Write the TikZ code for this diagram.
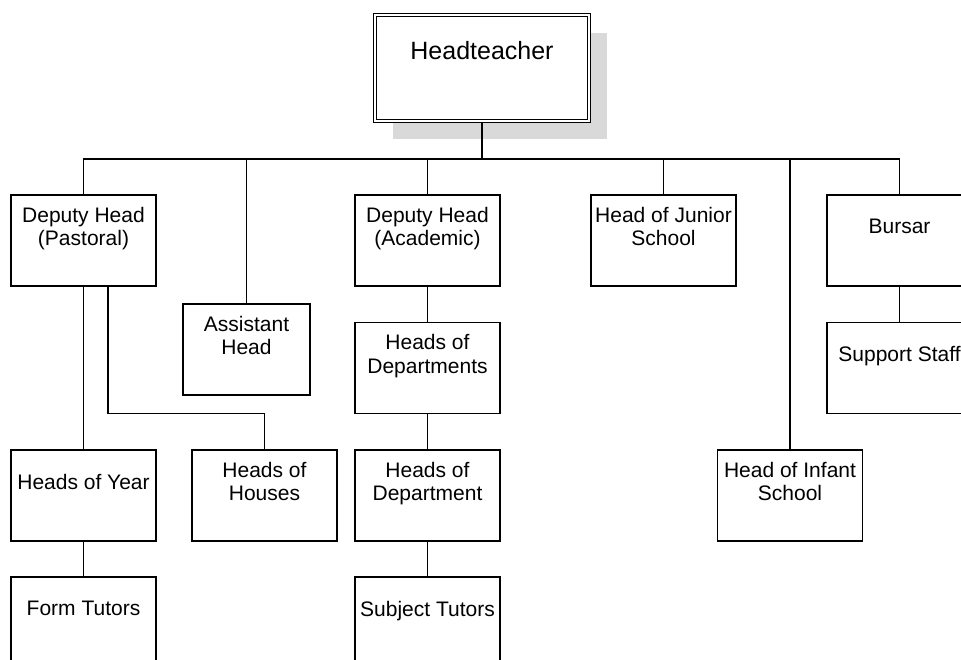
\documentclass[tikz,border=0pt]{standalone}
\usepackage{fontspec}
\setmainfont{Liberation Sans}
\usetikzlibrary{positioning,shadows}

\begin{document}
\begin{tikzpicture}
    [
    x=1pt, y=-1pt,
    box/.style={rectangle,draw,line width=1.2pt,minimum width=145pt,minimum height=91pt,inner sep=0pt},
    head/.style={rectangle,draw,fill=white,line width=1.2pt,double,double distance=2.5pt,
      minimum width=214pt,minimum height=106pt,inner sep=0pt,
      drop shadow={shadow xshift=18pt,shadow yshift=-18pt,fill=black!15,opacity=1}},
    txt/.style={align=center,inner sep=0pt,text depth=0pt,font=\fontsize{21}{23.5}\selectfont},
    edge/.style={line width=1.2pt}
    ]
\useasboundingbox (0,0) rectangle (961,660);
% top of the chart
\node[head] (ht) at (482,68) {};
\node[txt,font=\fontsize{25}{28}\selectfont] (ht-t) at ([yshift=-36.5pt]ht.north) {Headteacher};
\coordinate (bus) at (482,159);
% first row
\node[box] (dhp) at (83.5,240.5) {};
\node[box,minimum width=127pt] (ah) at (246.5,349.5) {};
\node[box] (dha) at (427.5,240.5) {};
\node[box] (hj) at (663.5,240.5) {};
\node[box] (bur) at (899.5,240.5) {};
\node[box] (hi) at (790,495.5) {};
% lower rows
\node[box] (hy) at (83.5,495.5) {};
\node[box] (ft) at (83.5,622.5) {};
\node[box] (hh) at (264.5,495.5) {};
\node[box] (hds) at (427.5,368) {};
\node[box] (hd) at (427.5,495.5) {};
\node[box] (st) at (427.5,622.5) {};
\node[box] (ss) at (899.5,368) {};
% texts
\node[txt] (dhp-t) at ([yshift=-32pt]dhp.north) {Deputy Head\\(Pastoral)};
\node[txt] (ah-t) at ([yshift=-32pt]ah.north) {Assistant\\Head};
\node[txt] (dha-t) at ([yshift=-32pt]dha.north) {Deputy Head\\(Academic)};
\node[txt] (hj-t) at ([yshift=-32pt]hj.north) {Head of Junior\\School};
\node[txt] (bur-t) at ([yshift=-32pt]bur.north) {Bursar};
\node[txt] (hi-t) at ([yshift=-32pt]hi.north) {Head of Infant\\School};
\node[txt] (hy-t) at ([yshift=-32pt]hy.north) {Heads of Year};
\node[txt] (ft-t) at ([yshift=-32pt]ft.north) {Form Tutors};
\node[txt] (hh-t) at ([yshift=-32pt]hh.north) {Heads of\\Houses};
\node[txt] (hds-t) at ([yshift=-32pt]hds.north) {Heads of\\Departments};
\node[txt] (hd-t) at ([yshift=-32pt]hd.north) {Heads of\\Department};
\node[txt] (st-t) at ([yshift=-32pt]st.north) {Subject Tutors};
\node[txt] (ss-t) at ([yshift=-32pt]ss.north) {Support Staff};
% lines
\draw[edge] (ht) -- (bus);
\draw[edge] (dhp.north) |- (bus);
\draw[edge] (ah.north) |- (bus);
\draw[edge] (dha.north) |- (bus);
\draw[edge] (hj.north) |- (bus);
\draw[edge] (hi.north) |- (bus);
\draw[edge] (bur.north) |- (bus);
\draw[edge] (dhp) -- (hy);
\draw[edge] (hy) -- (ft);
\draw[edge] ([xshift=24.5pt]dhp.south) -- ++(0,127) -| (hh.north);
\draw[edge] (dha) -- (hds);
\draw[edge] (hds) -- (hd);
\draw[edge] (hd) -- (st);
\draw[edge] (bur) -- (ss);
\end{tikzpicture}
\end{document}
